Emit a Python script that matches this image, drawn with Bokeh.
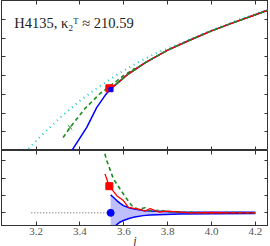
from bokeh.plotting import figure
from bokeh.layouts import column
from bokeh.models import Range1d, LinearAxis, FixedTicker, Label, NumeralTickFormatter, CustomJSTickFormatter
from bokeh.embed import file_html
from bokeh.resources import INLINE

# ---------------- data ----------------
x_ticks = [3.2, 3.4, 3.6, 3.8, 4.0, 4.2]
top_y_ticks = [1, 2, 3, 4, 5, 6, 7]
bot_y_ticks = [0, 1, 2, 3]

# common branch of the top curves
main_x = [3.54, 3.62, 3.70, 3.80, 3.90, 4.00, 4.10, 4.20, 4.27]
main_y = [3.29, 4.08, 4.70, 5.35, 5.88, 6.38, 6.82, 7.24, 7.54]

blue_x = [3.355, 3.363, 3.431, 3.476, 3.514, 3.540]
blue_y = [-0.2, 0.0, 1.23, 2.29, 2.93, 3.29]

green_x = [3.323, 3.355, 3.423, 3.492, 3.570, 3.60, 3.65]
green_y = [0.69, 1.23, 2.24, 3.04, 3.73, 4.00, 4.38]

cyan_x = [3.150, 3.220, 3.310, 3.401, 3.484, 3.575, 3.666, 3.757, 3.825, 3.955, 4.107, 4.27]
cyan_y = [-0.1, 0.75, 1.76, 2.67, 3.38, 4.09, 4.71, 5.24, 5.55, 6.20, 6.90, 7.56]

red_pt = (3.534, 3.32)
blue_pt = (3.541, 3.25)
green_cross = (3.355, 1.23)

# bottom panel
gb_x = [3.505, 3.522, 3.552, 3.582, 3.613, 3.636, 3.665, 3.697, 3.72, 3.765, 3.81, 3.9, 4.0, 4.1, 4.2]
gb_y = [3.8, 3.02, 1.98, 1.39, 0.81, 0.42, 0.20, 0.30, 0.10, 0.15, 0.05, 0.03, 0.0, 0.02, 0.0]

rb_x = [3.514, 3.534, 3.568, 3.598, 3.621, 3.652, 3.674, 3.697, 3.72, 3.76, 3.8, 3.9, 4.0, 4.1, 4.2]
rb_y = [2.25, 1.54, 0.99, 0.71, 0.32, 0.25, 0.20, 0.10, 0.25, 0.05, 0.10, 0.0, 0.02, 0.0, 0.0]

band_x = [3.540, 3.552, 3.568, 3.582, 3.598, 3.627, 3.643, 3.688, 3.72, 3.856, 4.0, 4.2]
band_up = [1.04, 0.90, 0.71, 0.56, 0.42, 0.28, 0.23, 0.14, 0.10, 0.05, 0.04, 0.03]
band_lo = [-1.10, -0.83, -0.68, -0.54, -0.44, -0.31, -0.26, -0.16, -0.13, -0.07, -0.05, -0.03]

ref_x = [3.178, 3.54]
ref_y = [0.0, 0.0]
red_pt_b = (3.534, 1.54)
blue_pt_b = (3.54, 0.0)

title_text = "H4135, κ₂ᵀ ≈ 210.59"
x_label = "j"

# ---------------- styling ----------------
BLUE = "#0000ff"
RED = "#ff0000"
GREEN = "#1e8c1e"
CYAN = "#1fc8c8"
AX = "#333333"
SERIF = "Liberation Serif"

xr = Range1d(3.042, 4.26)


def add_axis(p, side, ticks, labels=False):
    ax = LinearAxis(ticker=FixedTicker(ticks=ticks))
    ax.major_tick_in = 4
    ax.major_tick_out = 0
    ax.minor_tick_line_color = None
    ax.axis_line_color = AX
    ax.major_tick_line_color = AX
    if labels:
        ax.formatter = NumeralTickFormatter(format="0.0")
        ax.major_label_text_font = SERIF
        ax.major_label_text_font_size = "11px"
        ax.major_label_text_color = "#555555"
        ax.major_label_standoff = 2
    else:
        ax.formatter = CustomJSTickFormatter(code="return ''")
        ax.major_label_text_font_size = "0px"
        ax.major_label_standoff = 0
    p.add_layout(ax, side)
    return ax


def make_fig(yr, fh):
    p = figure(x_range=xr, y_range=yr, frame_width=267, frame_height=fh,
               x_axis_location=None, y_axis_location=None,
               output_backend="svg", toolbar_location=None,
               min_border=0)
    p.grid.visible = False
    p.outline_line_color = AX
    p.background_fill_color = "white"
    p.border_fill_color = "white"
    return p


top = make_fig(Range1d(0, 8), 150)
top.min_border_left = 1
add_axis(top, "left", top_y_ticks)
add_axis(top, "right", top_y_ticks)
add_axis(top, "above", x_ticks)
add_axis(top, "below", x_ticks)

top.line(cyan_x, cyan_y, line_color=CYAN, line_width=2, line_dash="1 4")
top.line(green_x, green_y, line_color=GREEN, line_width=1.6, line_dash="4 3")
top.line(blue_x, blue_y, line_color=BLUE, line_width=1.5)
top.line(main_x, main_y, line_color=BLUE, line_width=1.5)
top.line(main_x, main_y, line_color=RED, line_width=1.5)
top.line(main_x, main_y, line_color=GREEN, line_width=1.6, line_dash="4 3")
top.scatter([green_cross[0]], [green_cross[1]], marker="x", size=6, line_color=GREEN, line_width=1)
top.scatter([red_pt[0]], [red_pt[1]], marker="square", size=7, fill_color=RED, line_color=RED)
top.scatter([blue_pt[0]], [blue_pt[1]], marker="square", size=4, fill_color=BLUE, line_color=BLUE)

top.add_layout(Label(x=3.100, y=6.80, text=title_text, text_font=SERIF,
                     text_font_size="14.5px", text_color="#222222",
                     text_baseline="alphabetic", text_align="left"))

bot = make_fig(Range1d(-0.73, 3.6), 75)
bot.min_border_left = 1
add_axis(bot, "left", bot_y_ticks)
add_axis(bot, "right", bot_y_ticks)
add_axis(bot, "above", x_ticks)
bx = add_axis(bot, "below", x_ticks, labels=True)
bx.axis_label = x_label
bx.axis_label_text_font = SERIF
bx.axis_label_text_font_style = "italic"
bx.axis_label_text_font_size = "12px"
bx.axis_label_standoff = -4
bx.axis_label_text_color = "#333333"

bot.varea(x=band_x, y1=band_lo, y2=band_up, fill_color=BLUE, fill_alpha=0.25)
bot.line(band_x, band_up, line_color=BLUE, line_width=1.5)
bot.line(band_x, band_lo, line_color=BLUE, line_width=1.5)
bot.line(ref_x, ref_y, line_color="#555555", line_width=1, line_dash="1 2")
bot.line(gb_x, gb_y, line_color=GREEN, line_width=1.6, line_dash="4 3")
bot.line(rb_x, rb_y, line_color=RED, line_width=1.3)
bot.scatter([red_pt_b[0]], [red_pt_b[1]], marker="square", size=7, fill_color=RED, line_color=RED)
bot.scatter([blue_pt_b[0]], [blue_pt_b[1]], marker="circle", size=7, fill_color=BLUE, line_color=BLUE)

layout = column(top, bot, spacing=0)

open("out.html", "w").write(file_html(layout, INLINE))
